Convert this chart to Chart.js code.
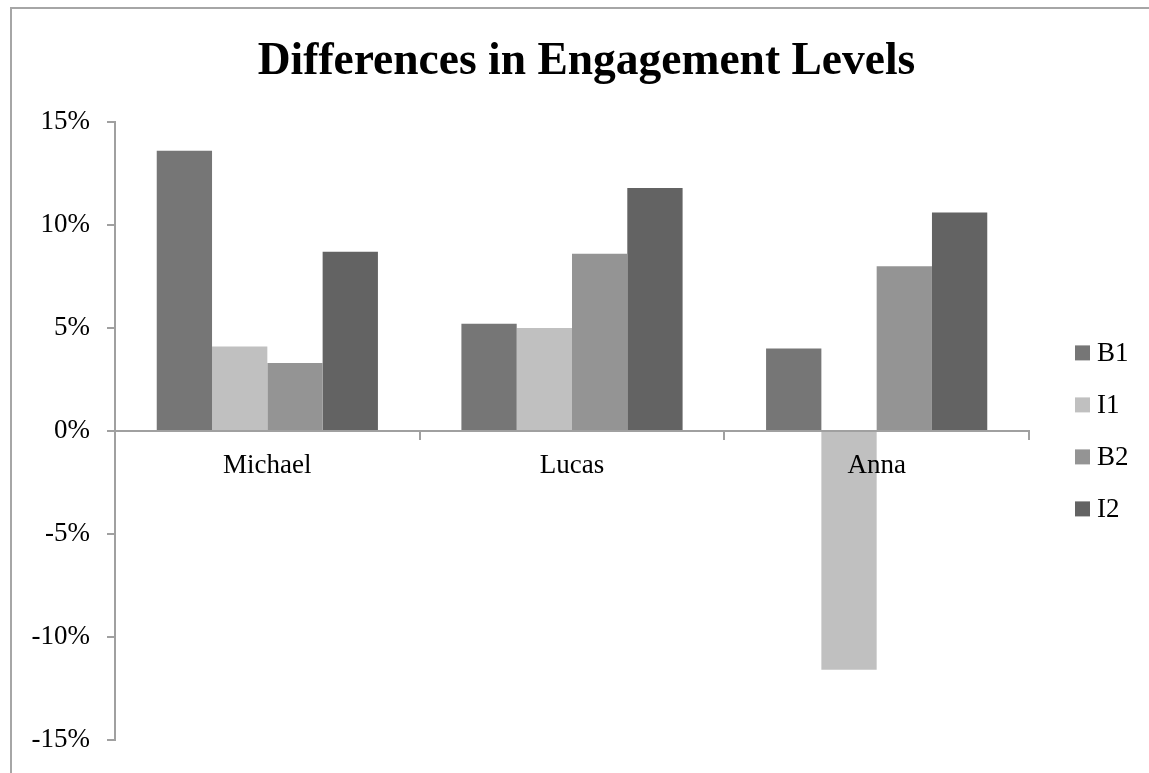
<!DOCTYPE html>
<html>
<head>
<meta charset="utf-8">
<title>Differences in Engagement Levels</title>
<script src="https://cdn.jsdelivr.net/npm/chart.js@4/dist/chart.umd.min.js"></script>
<style>
  html, body { margin: 0; padding: 0; background: #fff; overflow: hidden; }
  #frame { position: absolute; left: 10px; top: 7px; width: 1300px; height: 900px;
           border-left: 2px solid #a6a6a6; border-top: 2px solid #a6a6a6; }
  #chart { position: absolute; left: 0; top: 0; }
</style>
</head>
<body>
<div id="frame"></div>
<canvas id="chart" width="1149" height="773"></canvas>
<script>
// data (percent)
const students = ['Michael', 'Lucas', 'Anna'];
const seriesNames = ['B1', 'I1', 'B2', 'I2'];
const b1 = [13.6, 5.2, 4.0];
const i1 = [4.1, 5.0, -11.6];
const b2 = [3.3, 8.6, 8.0];
const i2 = [8.7, 11.8, 10.6];
const yTicks = [-15, -10, -5, 0, 5, 10, 15];

const colours = ['#767676', '#c0c0c0', '#949494', '#636363'];
const serif = "'Liberation Serif', 'Times New Roman', serif";
const axisGrey = '#a0a0a0';

// legend drawn at the right, centred on the plot like the original
const sideLegend = {
  id: 'sideLegend',
  afterDraw(chart) {
    const ctx = chart.ctx;
    const area = chart.chartArea;
    const sets = chart.data.datasets;
    const mid = (area.top + area.bottom) / 2;
    ctx.save();
    ctx.font = '27px ' + serif;
    ctx.textBaseline = 'middle';
    sets.forEach((ds, i) => {
      const cy = mid + (i - (sets.length - 1) / 2) * 52;
      const x = area.right + 46;
      ctx.fillStyle = ds.backgroundColor;
      ctx.fillRect(x, cy - 7.5, 15, 15);
      ctx.fillStyle = '#000';
      ctx.fillText(ds.label, x + 22, cy + 1);
    });
    ctx.restore();
  }
};

new Chart(document.getElementById('chart'), {
  type: 'bar',
  data: {
    labels: students,
    datasets: [b1, i1, b2, i2].map((vals, k) => ({
      label: seriesNames[k],
      data: vals,
      backgroundColor: colours[k],
      borderWidth: 0,
      categoryPercentage: 0.726,
      barPercentage: 1
    }))
  },
  options: {
    responsive: false,
    animation: false,
    layout: { padding: { left: 24, right: 0, top: 0, bottom: 28 } },
    plugins: {
      legend: { display: false },
      tooltip: { enabled: false },
      title: {
        display: true,
        text: 'Differences in Engagement Levels',
        color: '#000',
        font: { family: serif, size: 45.5, weight: 'bold' },
        padding: { top: 35, bottom: 32.4 }
      }
    },
    scales: {
      x: {
        position: { y: 0 },
        // axis line and names sit on top of the bars, as in the original
        grid: { drawOnChartArea: false, drawTicks: true, tickLength: 8, color: axisGrey, lineWidth: 2, z: 1 },
        border: { color: axisGrey, width: 2, z: 1 },
        ticks: { color: '#000', font: { family: serif, size: 27 }, padding: 11, z: 1 }
      },
      y: {
        min: -15,
        max: 15,
        afterBuildTicks: axis => { axis.ticks = yTicks.map(v => ({ value: v })); },
        afterFit: axis => { axis.width = 91; },
        grid: { drawOnChartArea: false, drawTicks: true, tickLength: 8, color: axisGrey, lineWidth: 2 },
        border: { color: axisGrey, width: 2 },
        ticks: {
          color: '#000',
          font: { family: serif, size: 27 },
          padding: 17,
          callback: v => v + '%'
        }
      },
      // empty right-hand axis that only keeps room for the legend
      legendRoom: {
        axis: 'y',
        position: 'right',
        afterFit: axis => { axis.width = 120; },
        grid: { display: false },
        border: { display: false },
        ticks: { display: false }
      }
    }
  },
  plugins: [sideLegend]
});
</script>
</body>
</html>
